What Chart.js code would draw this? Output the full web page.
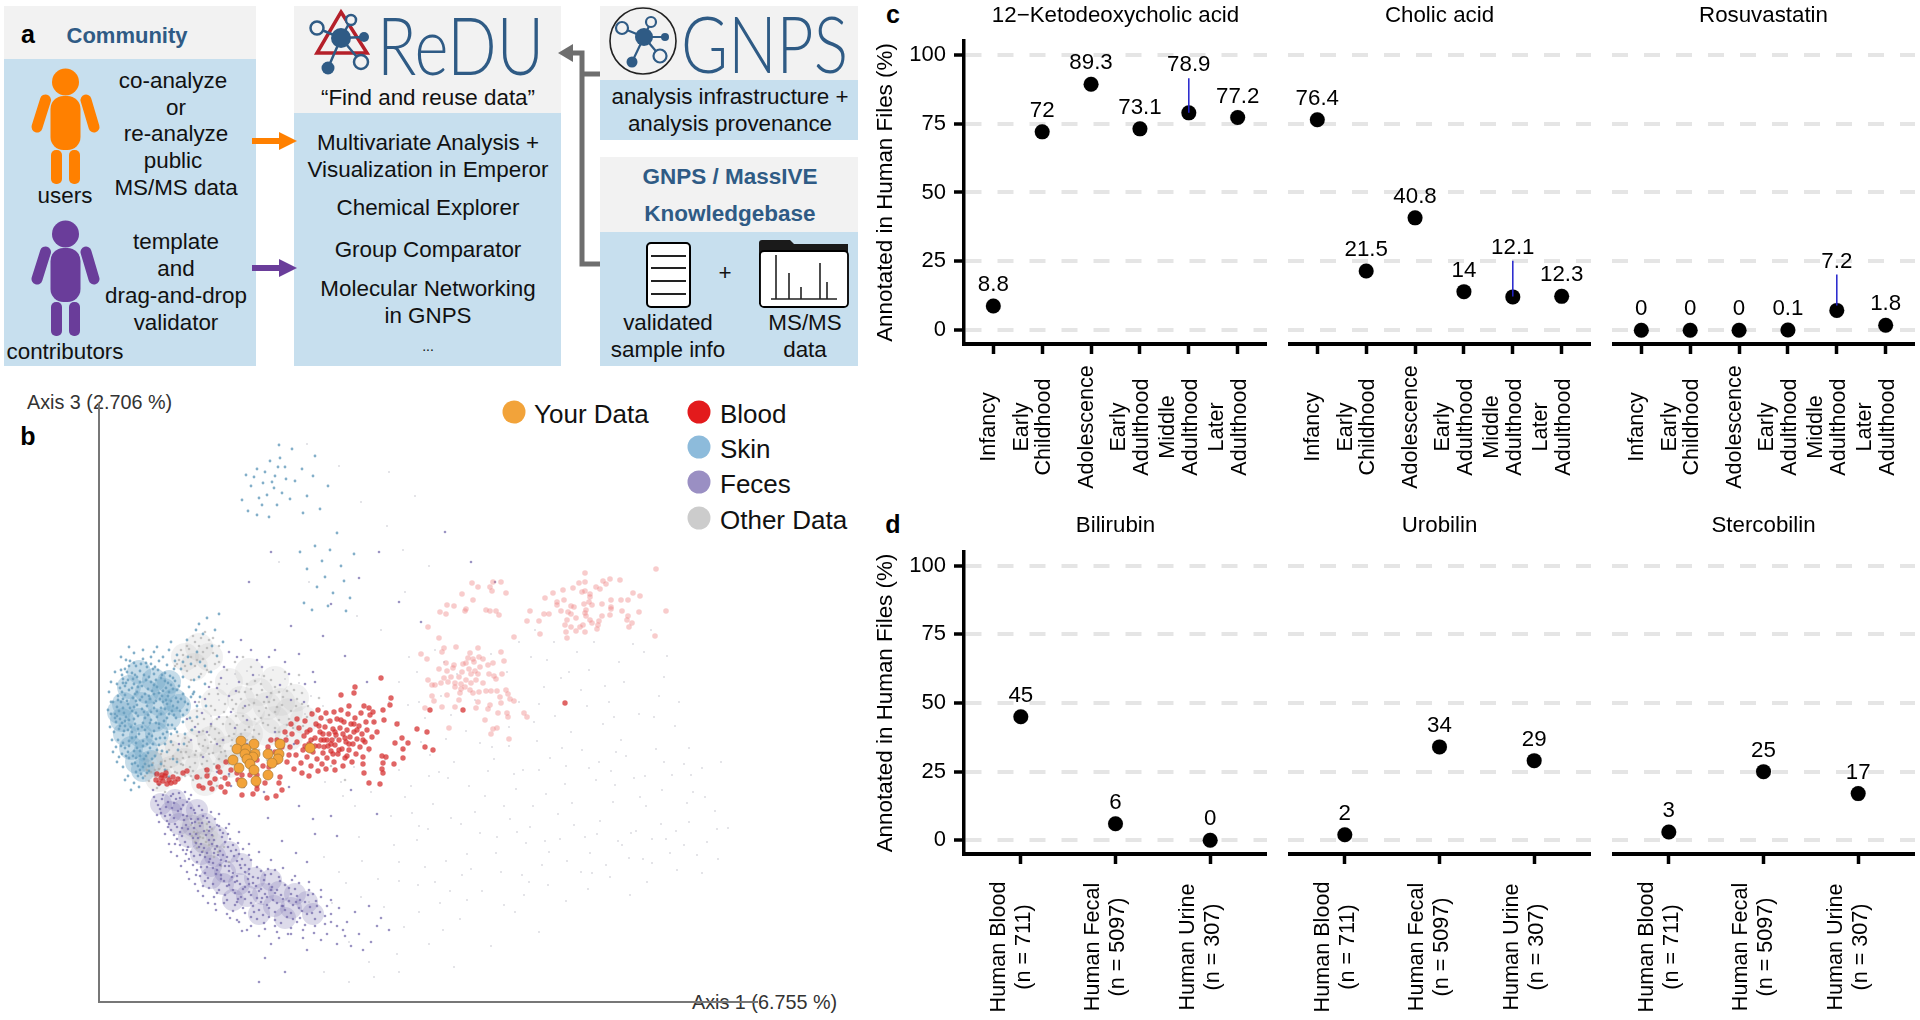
<!DOCTYPE html>
<html>
<head>
<meta charset="utf-8">
<title>ReDU figure</title>
<script src="https://cdn.jsdelivr.net/npm/chart.js@4"></script>
<style>
html, body { margin: 0; background: #fff; }
#page { position: relative; width: 1920px; height: 1020px; overflow: hidden; font-family: "Liberation Sans", Arial, sans-serif; }
#page canvas, #page svg { position: absolute; left: 0; top: 0; }
svg text { font-family: "Liberation Sans", Arial, sans-serif; font-size: 22.4px; text-anchor: middle; dominant-baseline: central; fill: #111; transform: translateY(-1px); }
svg text.head { font-weight: bold; font-size: 22.5px; fill: #2f5b85; }
svg text.tag { font-weight: bold; font-size: 25px; fill: #000; }
svg text.logo { font-family: Lato, "Open Sans", sans-serif; font-weight: 300; text-anchor: start; dominant-baseline: auto; fill: #2f5b85; transform: none; }
svg text.leg { font-size: 26px; text-anchor: start; }
svg text.ax { font-size: 19.8px; fill: #333; text-anchor: start; }
</style>
</head>
<body>
<div id="page">
<svg width="1920" height="1020" viewBox="0 0 1920 1020">
  <defs>
    <g id="person">
      <circle cx="65.5" cy="82" r="13.5"/>
      <rect x="50.5" y="96" width="30" height="54" rx="13"/>
      <rect x="51" y="150" width="11" height="34" rx="5"/>
      <rect x="69" y="150" width="11" height="34" rx="5"/>
      <path d="M45.5 100 L37 127 M86 100 L94 127" stroke-width="11" stroke-linecap="round" stroke="currentColor" fill="none"/>
    </g>
  </defs>

  <!-- panel a boxes -->
  <rect x="4" y="6" width="252" height="53" fill="#f2f2f2"/>
  <rect x="4" y="59" width="252" height="307" fill="#c7dfee"/>
  <rect x="294" y="6" width="267" height="107" fill="#f2f2f2"/>
  <rect x="294" y="113" width="267" height="253" fill="#c7dfee"/>
  <rect x="600" y="6" width="258" height="74" fill="#f2f2f2"/>
  <rect x="600" y="80" width="258" height="60" fill="#c7dfee"/>
  <rect x="600" y="157" width="258" height="75" fill="#f2f2f2"/>
  <rect x="600" y="232" width="258" height="134" fill="#c7dfee"/>

  <text class="tag" x="28" y="35">a</text>
  <text class="head" x="127" y="36" style="font-size:22px">Community</text>
  <use href="#person" fill="#ff8000" color="#ff8000"/>
  <use href="#person" fill="#6a3d9a" color="#6a3d9a" y="152"/>
  <text x="173" y="81">co-analyze</text>
  <text x="176" y="108">or</text>
  <text x="176" y="134">re-analyze</text>
  <text x="173" y="161">public</text>
  <text x="176" y="188">MS/MS data</text>
  <text x="65" y="196">users</text>
  <text x="176" y="242">template</text>
  <text x="176" y="269">and</text>
  <text x="176" y="296">drag-and-drop</text>
  <text x="176" y="323">validator</text>
  <text x="65" y="352">contributors</text>

  <path d="M252 141 H284" stroke="#ff8000" stroke-width="6"/>
  <path d="M279 132 L297 141 L279 150 Z" fill="#ff8000"/>
  <path d="M252 268 H284" stroke="#6a3d9a" stroke-width="6"/>
  <path d="M279 259 L297 268 L279 277 Z" fill="#6a3d9a"/>

  <!-- ReDU logo -->
  <path d="M341 12 L367 53 L317 53 Z" fill="none" stroke="#b5202a" stroke-width="3.5"/>
  <g stroke="#2f5b85" stroke-width="2.5" fill="none">
    <path d="M341 38 L317 28 M341 38 L364 37 M341 38 L328 68 M341 38 L361 62 M341 38 L351 20"/>
    <circle cx="317" cy="28" r="6.5" fill="#f2f2f2"/>
    <circle cx="361" cy="62" r="7" fill="#f2f2f2"/>
    <circle cx="351" cy="20" r="5" fill="#f2f2f2"/>
  </g>
  <circle cx="341" cy="38" r="10" fill="#2f5b85"/>
  <circle cx="364" cy="37" r="5" fill="#2f5b85"/>
  <circle cx="328" cy="68" r="6.5" fill="#2f5b85"/>
  <text class="logo" x="377" y="75" style="font-size:80px" textLength="167" lengthAdjust="spacingAndGlyphs">ReDU</text>
  <text x="428" y="98">“Find and reuse data”</text>
  <text x="428" y="143">Multivariate Analysis +</text>
  <text x="428" y="170">Visualization in Emperor</text>
  <text x="428" y="208">Chemical Explorer</text>
  <text x="428" y="250">Group Comparator</text>
  <text x="428" y="289">Molecular Networking</text>
  <text x="428" y="316">in GNPS</text>
  <text x="428" y="347" style="font-size:14px">...</text>

  <!-- GNPS logo -->
  <circle cx="643" cy="41" r="33" fill="none" stroke="#222" stroke-width="1.6"/>
  <g stroke="#2f5b85" stroke-width="2.2" fill="none">
    <path d="M644 37 L622 28 M644 37 L651 22 M644 37 L665 37 M644 37 L660 56 M644 37 L632 62"/>
    <circle cx="622" cy="28" r="6" fill="#f2f2f2"/>
    <circle cx="651" cy="22" r="5" fill="#f2f2f2"/>
    <circle cx="660" cy="56" r="6.5" fill="#f2f2f2"/>
  </g>
  <circle cx="644" cy="37" r="9" fill="#2f5b85"/>
  <circle cx="665" cy="37" r="4" fill="#2f5b85"/>
  <circle cx="632" cy="62" r="5.5" fill="#2f5b85"/>
  <text class="logo" x="681" y="73" style="font-size:78px" textLength="167" lengthAdjust="spacingAndGlyphs">GNPS</text>
  <text x="730" y="97">analysis infrastructure +</text>
  <text x="730" y="124">analysis provenance</text>
  <text class="head" x="730" y="177">GNPS / MassIVE</text>
  <text class="head" x="730" y="214">Knowledgebase</text>

  <path d="M600 74 H582 M582 50.5 V266.5 M582 264 H600 M584 53 H566" stroke="#6e6e6e" stroke-width="5" fill="none"/>
  <path d="M573 44 L558 53 L573 62 Z" fill="#6e6e6e"/>

  <!-- file icons -->
  <rect x="647" y="243" width="43" height="64" rx="4" fill="#fff" stroke="#000" stroke-width="2"/>
  <path d="M651 256 H686 M651 268 H686 M651 281 H686 M651 294 H686" stroke="#222" stroke-width="2"/>
  <text x="725" y="273">+</text>
  <path d="M759 304 V243 Q759 240 762 240 H790 L794 244 H848 V304 Z" fill="#1a1a1a"/>
  <rect x="760" y="251" width="88" height="56" rx="4" fill="#fff" stroke="#000" stroke-width="1.8"/>
  <path d="M771 299 H837 M776 299 V255 M789 299 V273 M801 299 V287 M820 299 V263 M827 299 V282" stroke="#222" stroke-width="1.6" fill="none"/>
  <text x="668" y="323">validated</text>
  <text x="668" y="350">sample info</text>
  <text x="805" y="323">MS/MS</text>
  <text x="805" y="350">data</text>

  <!-- panel b labels and legend -->
  <text class="ax" x="27" y="403">Axis 3 (2.706 %)</text>
  <text class="tag" x="28" y="437">b</text>
  <text class="ax" x="692" y="1003">Axis 1 (6.755 %)</text>
  <circle cx="514" cy="412" r="11.5" fill="#f2a33a"/>
  <text class="leg" x="534" y="415">Your Data</text>
  <circle cx="699" cy="412" r="11.5" fill="#e31a1c"/>
  <text class="leg" x="720" y="415">Blood</text>
  <circle cx="699" cy="447" r="11.5" fill="#8dbbdb"/>
  <text class="leg" x="720" y="450">Skin</text>
  <circle cx="699" cy="482" r="11.5" fill="#9a8fc3"/>
  <text class="leg" x="720" y="485">Feces</text>
  <circle cx="699" cy="518" r="11.5" fill="#cccccc"/>
  <text class="leg" x="720" y="521">Other Data</text>

  <text class="tag" x="893" y="15">c</text>
  <text class="tag" x="893" y="525">d</text>
</svg>

<canvas id="pcoa" width="690" height="625" style="left:90px;top:395px"></canvas>
<canvas id="c1" width="397" height="500" style="left:870px;top:0"></canvas>
<canvas id="c2" width="303" height="500" style="left:1288px;top:0"></canvas>
<canvas id="c3" width="303" height="500" style="left:1612px;top:0"></canvas>
<canvas id="d1" width="397" height="510" style="left:870px;top:510px"></canvas>
<canvas id="d2" width="303" height="510" style="left:1288px;top:510px"></canvas>
<canvas id="d3" width="303" height="510" style="left:1612px;top:510px"></canvas>
</div>

<script>
// values
const ageGroups = [["Infancy"], ["Early", "Childhood"], ["Adolescence"], ["Early", "Adulthood"], ["Middle", "Adulthood"], ["Later", "Adulthood"]];
const sampleTypes = [["Human Blood", "(n = 711)"], ["Human Fecal", "(n = 5097)"], ["Human Urine", "(n = 307)"]];
const percentTicks = [0, 25, 50, 75, 100];

const ketoValues = [8.8, 72, 89.3, 73.1, 78.9, 77.2];
const cholicValues = [76.4, 21.5, 40.8, 14, 12.1, 12.3];
const rosuvaValues = [0, 0, 0, 0.1, 7.2, 1.8];
const bilirubinValues = [45, 6, 0];
const urobilinValues = [2, 34, 29];
const stercobilinValues = [3, 25, 17];

// blue leader lines at Middle Adulthood
const ketoLeader = [78.9, 91.5];
const cholicLeader = [12.2, 25.2];
const rosuvaLeader = [9, 20.2];

// PCoA points [axis 1, axis 3], estimated by eye; the clouds are a thinned-out reading
const yourData = [[142,261],[155,258],[181,258],[138,253],[147,253],[156,248],[146,248],[169,248],[180,248],[154,245],[134,242],[148,243],[179,243],[173,239],[151,238],[140,234],[155,232],[169,227],[143,219],[157,221],[211,254]];

const bloodPts = [[282,324],[256,315],[255,309],[242,307],[292,304],[291,297],[270,294],[284,292],[285,282],[298,278],[318,273],[328,270],[303,264],[296,259],[309,259],[304,253],[326,255],[334,252],[287,245],[283,246],[304,244],[295,238],[284,239],[283,233],[284,229],[264,238],[265,229],[270,219],[281,218],[168,204],[177,206],[183,212],[143,207],[154,208],[158,213],[108,226],[104,214],[121,230],[111,219],[116,223],[122,215],[126,210],[129,218],[138,229],[143,227],[151,227],[158,227],[166,219],[180,219],[181,225],[158,217],[139,222],[126,224],[466,299],[331,292],[364,292],
[58,228],[62,224],[66,226],[70,222],[74,225],[60,219],[64,221],[68,218],[72,219],[76,220],[79,223],[63,227],[67,229],[57,222],[84,229],[88,231],[98,225],[108,232],[100,216],[113,213],[119,235],[169,255],[178,262],[158,242],[164,236],[127,240],[132,232],
[187,262],[191,255],[193,268],[197,247],[198,260],[200,274],[202,239],[204,252],[205,266],[206,281],[208,245],[210,258],[211,272],[212,236],[213,288],[214,250],[216,264],[217,278],[218,243],[219,292],[220,256],[221,270],[222,284],[223,238],[224,249],[225,262],[226,275],[227,289],[228,244],[229,256],[230,268],[231,281],[232,251],[233,262],[234,273],[235,240],[235,290],[236,257],[237,267],[238,283],[239,248],[240,262],[241,274],[242,292],[243,253],[244,268],[245,280],[246,244],[247,260],[248,272],[249,288],[250,252],[251,265],[252,278],[253,240],[254,258],[255,270],[256,284],[257,248],[258,263],[260,276],[261,255],[262,289],[263,268],[264,245],[266,260],[267,280],[268,272],[270,253],[271,287],[273,265],[188,240],[195,233],[203,229],[210,226],[219,231],[227,233],[236,232],[244,236],[192,278],[198,283],[190,247],[183,255],[176,250],[172,262],[186,270],[178,240],[170,235],[208,270],[216,256],[224,268],[232,258],[240,252],[228,262],[222,262],[236,270],[246,264],[250,258],[225,255],[212,262],[242,282],[258,272],[206,256],[220,276],[234,248],[248,246],[255,278],[264,262],[275,280],[278,270],[274,290],[265,296],[250,296]];

const paleBloodPts = [[557,433],[486,429],[511,423],[504,421],[521,422],[480,419],[486,420],[507,418],[497,415],[501,413],[474,414],[464,412],[486,411],[483,410],[454,409],[491,408],[446,404],[465,402],[458,400],[491,405],[534,409],[541,406],[529,402],[522,402],[512,402],[490,400],[503,398],[458,397],[493,397],[485,398],[472,396],[475,395],[512,395],[512,393],[487,392],[523,391],[540,390],[462,391],[431,391],[567,391],[469,390],[472,388],[486,389],[445,388],[450,388],[511,387],[503,386],[477,384],[487,386],[529,386],[468,382],[528,382],[491,382],[428,381],[440,381],[500,381],[493,379],[533,379],[466,377],[472,375],[484,377],[481,375],[499,377],[530,375],[477,371],[486,370],[467,370],[498,373],[441,368],[556,366],[468,364],[415,365],
[373,419],[394,420],[402,420],[379,415],[391,415],[393,411],[407,409],[363,408],[374,402],[348,397],[355,396],[367,393],[366,391],[341,390],[347,388],[387,392],[391,391],[397,391],[400,387],[329,375],[340,364],[357,355],[379,354],[345,354],[343,350],[371,349],[402,350],[322,348],[328,343],[369,344],[374,343],[380,345],[384,343],[405,341],[347,339],[364,338],[355,337],[367,339],[375,340],[381,335],[389,337],[394,339],[340,333],[348,331],[354,334],[370,333],[376,331],[363,330],[372,328],[379,328],[390,328],[395,326],[360,325],[352,325],[329,322],[367,322],[377,322],[345,324],[397,323],[403,328],[333,317],[336,317],[342,319],[349,320],[356,319],[362,318],[372,319],[384,319],[356,315],[362,313],[366,315],[371,312],[407,312],[380,310],[387,311],[392,311],[398,311],[409,308],[333,306],[348,307],[361,309],[374,309],[379,300],[401,305],[411,303],[335,301],[360,302],[391,297],[402,299],[415,301],[326,294],[343,295],[356,295],[377,294],[389,293],[399,289],[408,289],[425,289],[428,285],[386,282],[409,285],[350,274],[394,273],[398,274],[392,268],[410,263]];

// broad soft marks for the solid part of each cloud
const skinCore = [[40,330],[55,322],[30,315],[48,310],[65,312],[25,298],[42,298],[60,298],[75,302],[23,282],[40,282],[56,282],[70,284],[26,268],[42,266],[58,268],[32,254],[47,252],[38,240],[44,232],[70,320],[80,296],[20,290],[52,240]];
const otherCore = [[58,238],[72,232],[86,240],[100,236],[114,244],[80,255],[96,258],[112,262],[128,252],[70,248],[124,272],[140,276],[152,290],[168,296],[182,300],[160,310],[142,302],[176,282],[190,290],[196,304],[150,268],[168,270],[86,345],[100,355],[95,335],[110,345],[60,224],[105,168],[95,175],[110,158],[130,238],[146,256],[100,280],[116,300],[130,320],[150,330],[176,322],[205,282],[190,265],[106,220]];
const fecesCore = [[62,198],[72,190],[84,192],[80,178],[94,176],[106,178],[90,165],[104,160],[118,165],[102,148],[116,146],[130,150],[112,136],[126,130],[142,138],[124,118],[140,118],[156,124],[172,122],[148,106],[164,108],[180,110],[196,108],[175,96],[192,94],[208,100],[76,202],[98,192],[112,124],[134,102],[160,88],[186,84],[214,88]];

const skinPts = [[31,341],[44,343],[37,336],[52,338],[26,333],[41,331],[48,335],[59,332],[33,329],[23,327],[55,328],[66,329],[38,325],[47,322],[29,322],[62,324],[71,326],[24,319],[35,318],[52,320],[43,316],[69,319],[76,321],[58,315],[21,314],[30,312],[64,311],[38,310],[49,313],[74,313],[80,316],[26,307],[55,308],[19,306],[43,305],[34,304],[69,306],[84,308],[61,303],[77,304],[47,300],[22,300],[29,298],[55,299],[38,297],[86,300],[68,298],[18,295],[74,296],[43,293],[62,294],[33,291],[52,290],[25,289],[81,291],[16,288],[70,288],[39,286],[58,285],[46,284],[77,284],[21,283],[30,282],[65,281],[17,280],[36,278],[51,279],[73,277],[26,276],[43,275],[60,274],[20,273],[33,270],[55,271],[68,270],[40,268],[24,267],[48,265],[61,264],[19,262],[30,261],[37,259],[54,258],[66,258],[44,256],[26,254],[58,252],[35,251],[49,249],[23,248],[41,246],[30,244],[53,243],[36,239],[46,238],[41,232],[48,229],[39,226],
[35,339],[47,339],[28,330],[54,333],[45,327],[34,323],[57,322],[66,321],[26,316],[41,320],[72,317],[33,314],[53,311],[46,308],[60,309],[70,310],[24,303],[37,301],[51,303],[64,300],[79,300],[31,294],[48,296],[58,291],[73,291],[20,291],[27,285],[35,283],[52,282],[68,284],[44,279],[60,278],[23,279],[29,272],[39,273],[50,268],[64,268],[16,284],[33,264],[44,261],[57,263],[24,259],[51,254],[38,254],[63,251],[29,250],[45,243],[34,246],[50,236],[42,228],[39,236],
[30,336],[42,338],[56,335],[24,323],[36,327],[50,325],[63,327],[74,324],[27,319],[39,315],[55,317],[67,314],[78,312],[23,310],[36,308],[50,306],[63,306],[72,301],[82,303],[19,302],[28,301],[41,302],[57,301],[67,302],[89,298],[24,294],[35,295],[45,290],[55,294],[66,293],[78,294],[18,286],[26,281],[37,289],[49,287],[62,288],[75,287],[84,287],[21,276],[32,275],[46,272],[57,279],[69,277],[76,273],[25,271],[37,265],[53,266],[66,264],[72,268],[22,256],[30,256],[41,251],[48,258],[60,257],[27,246],[37,244],[47,246],[56,246],[33,238],[44,235],[53,237],[37,230],[44,224],[50,231],
[14,300],[12,288],[15,270],[17,255],[20,245],[24,235],[29,226],[35,219],[40,215],[18,318],[22,332],[27,342],[35,349],[44,352],[52,345],[60,341],[68,337],[75,333],[84,325],[90,315],[92,305],[88,292],[84,280],[78,270],[72,260],[68,250],[62,238],[56,228],[108,384],[120,388],[97,372],[104,368],[16,330],[10,310],[30,355],[82,333],[95,322],[101,340],[89,345],[78,347],[70,352],[113,356],[94,308],[98,296],[91,284],[86,268],[79,252],[74,243],[66,232],
[95,310],[100,325],[106,318],[112,330],[92,338],[98,350],[84,340],[76,341],[64,345],[55,350],[101,305],[107,296],[98,285],[93,272],[85,258],[78,240],[70,225],[60,217],[106,336],[118,346],[124,360],[116,372],[100,378],[88,362],[72,360],[58,355],[12,300],[11,275],[13,262],[9,292],[12,320],[22,345],[18,240],[14,250],[26,222],[32,212],
[158,533],[164,519],[171,541],[176,526],[181,544],[187,523],[175,514],[168,507],[160,504],[152,516],[147,527],[143,502],[149,491],[158,487],[183,509],[191,503],[196,521],[203,533],[208,506],[214,526],[178,497],[170,485],[204,489],[221,493],[229,516],[216,546],[193,553],[180,557],[166,530],[173,520],[179,535],[155,525],[163,497],[186,535],[238,469],[216,456],[223,441],[231,452],[242,436],[208,433],[226,425],[218,415],[234,409],[245,421],[251,404],[205,399],[213,392],[229,396],[255,448],[201,450],[247,391]];

const otherPts = [[165,300],[158,307],[172,309],[150,297],[178,295],[160,291],[170,287],[184,305],[142,303],[152,313],[162,318],[176,315],[188,311],[134,293],[144,286],[156,283],[180,282],[192,291],[198,303],[128,285],[138,277],[150,275],[164,279],[176,274],[188,277],[120,269],[130,266],[142,268],[154,265],[167,294],[175,302],[155,299],[146,310],[137,298],[195,312],[203,298],[208,285],[124,278],[116,292],
[48,232],[54,239],[60,233],[66,241],[72,235],[78,243],[84,237],[90,245],[96,239],[102,247],[108,241],[114,249],[120,243],[126,251],[132,256],[56,226],[62,248],[70,252],[76,230],[82,250],[88,256],[94,231],[100,258],[106,233],[112,260],[118,235],[124,262],[130,238],[68,225],[74,257],[80,224],[86,264],[92,226],[98,266],[104,271],[110,267],[116,273],[122,224],[50,221],[58,214],[66,210],[92,177],[98,169],[104,164],[110,157],[100,179],[108,172],[114,166],[96,160],[104,151],[118,155],
[78,338],[84,347],[90,353],[96,360],[102,364],[108,354],[114,349],[104,343],[96,336],[88,331],[92,322],[110,330],[120,340],
[46,226],[52,230],[59,228],[65,236],[71,243],[78,229],[84,244],[91,235],[97,251],[103,238],[109,254],[115,238],[121,256],[127,246],[133,262],[139,252],[72,261],[79,266],[87,250],[92,272],[99,278],[106,262],[112,276],[118,283],[125,290],[131,278],[137,286],[144,294],[148,262],[155,272],[162,284],[169,277],[176,290],[183,297],[190,283],[197,296],[203,309],[209,296],[180,270],[188,266],[194,274],[204,276],[160,268],[170,262],[146,272],[135,268],[122,250],[116,263],[110,248],[104,256],[96,247],[90,260],[82,238],[74,246],[68,232],[62,240],[56,232],[50,236],[86,226],[94,222],[102,224],[110,228],[118,216],[130,226],[136,236],[142,224],[150,234],[168,242],[176,236],[190,256],[160,252],[152,246],[170,300],[163,312],[156,321],[148,318],[140,310],[133,302],[126,298],[119,308],[112,296],[105,283],[98,291],[93,281],[180,310],[192,318],[172,322],[200,327],[186,330],[165,326],[152,335],[136,340],[128,332],[144,345],[120,318],[110,308],[100,300],[212,290],[220,304],[228,282],[236,264],[214,262],[232,236],[246,222],
[80,342],[86,336],[92,345],[98,342],[104,350],[110,362],[100,356],[94,366],[88,356],[82,352],[76,336],[106,370],[114,364],[120,356],[116,338],[108,332],[112,320],[102,328],
[95,170],[101,165],[107,160],[113,173],[119,150],[98,154],[93,166],[108,178],[115,145],[125,155],[130,140],[122,136]];

const farField = [[120,302],[112,286],[128,318],[136,328],[148,331],[160,327],[174,332],[186,323],[200,319],[212,306],[206,288],[216,276],[224,296],[230,268],[236,248],[226,220],[244,206],[256,196],[272,210],[286,242],[300,232],[312,216],[326,284],[342,306],[358,328],[376,302],[392,348],[408,330],[420,360],[436,372],[448,342],[462,324],[478,350],[490,332],[506,316],[520,340],[534,358],[552,372],[568,346],[440,298],[456,286],[472,270],[488,296],[504,278],[522,262],[540,288],[560,306],[576,276],[590,254],[300,140],[318,162],[336,120],[352,184],[368,148],[386,206],[402,130],[418,170],[434,196],[450,150],[466,218],[482,130],[498,168],[514,200],[530,144],[546,226],[562,178],[578,132],[594,210],[608,160],[622,240],[430,120],[500,240],[548,120],[590,180],[320,90],[344,72],[368,102],[392,56],[416,90],[440,70],[250,60],[270,40],[298,48],[180,440],[210,420],[258,386],[282,372],[306,410],[330,436],[304,452],[288,476],[262,500],[240,536],[208,558],[290,530],[316,506],
[331,247],[347,263],[309,297],[318,330],[336,352],[352,287],[367,271],[381,259],[395,243],[410,256],[424,232],[438,261],[451,244],[467,236],[483,252],[497,222],[512,231],[527,246],[541,205],[557,253],[573,227],[588,199],[603,234],[616,191],[629,174],[619,143],[603,129],[585,157],[571,149],[553,163],[537,171],[523,157],[507,137],[491,149],[475,177],[461,163],[443,137],[427,159],[411,183],[397,149],[381,169],[363,127],[347,141],[329,173],[313,189],[295,157],[279,123],[263,141],[247,119],[233,99],[319,117],[341,99],[361,83],[383,111],[405,97],[425,107],[449,117],[467,101],[489,113],[511,125],[531,107],[553,139],
[292,186],[306,205],[320,176],[334,198],[349,224],[362,178],[376,190],[389,231],[405,196],[417,213],[431,175],[447,208],[459,188],[473,199],[486,165],[501,181],[516,217],[532,169],[547,196],[563,212],[577,171],[592,227],[606,205],[618,173],[300,121],[326,135],[351,111],[372,133],[398,165],[423,127],[446,161],[468,141],[493,129],[519,161],[544,143],[567,163],[598,147],[304,252],[330,226],[355,240],[370,216],[393,255],[415,228],[440,232],[463,254],[490,234],[517,250],[535,224],[565,240],[585,238],
[420,300],[445,315],[470,330],[432,345],[455,360],[482,312],[510,300],[495,360],[525,320],[545,350],[565,325],[580,300],[410,275],[435,280],[515,285],[555,285],[300,320],[320,300],[345,340],[310,345],[300,280],[322,260],[340,230],[270,250],[255,235],[275,280],[290,300],[248,270],[242,220],[260,165],[240,130],[225,145],[210,100],[262,105],[285,95],[305,75],[330,58],[355,35],[300,30],[275,25],[225,30],[250,20]];

const fecesPts = [[55,205],[63,203],[72,206],[81,204],[90,203],[59,197],[67,195],[75,199],[84,197],[92,194],[100,196],[62,189],[71,187],[79,191],[88,186],[96,189],[104,186],[112,190],[68,181],[76,178],[85,182],[93,179],[101,176],[110,180],[118,177],[72,172],[81,170],[89,173],[97,168],[105,171],[113,167],[121,172],[129,168],[78,163],[86,160],[94,164],[102,158],[110,162],[118,156],[126,160],[134,157],[84,152],[92,150],[100,155],[108,149],[116,153],[124,147],[132,151],[140,148],[90,143],[98,140],[106,145],[114,139],[122,142],[130,136],[138,141],[146,137],[152,142],[98,132],[106,129],[114,134],[122,127],[130,131],[138,126],[146,130],[154,125],[162,131],[172,128],[106,121],[114,118],[122,123],[130,117],[138,121],[146,115],[154,119],[162,113],[170,118],[178,112],[186,117],[196,113],[118,109],[126,107],[134,112],[142,105],[150,110],[158,104],[166,108],[174,102],[182,107],[190,101],[198,106],[206,100],[214,108],[136,97],[144,94],[152,99],[160,92],[168,97],[176,90],[184,96],[192,89],[200,94],[208,88],[218,96],[152,85],[164,87],[176,82],[188,85],[198,80],[74,208],[86,210],
[57,201],[69,200],[77,203],[88,200],[61,193],[73,194],[82,193],[95,192],[103,192],[66,186],[75,184],[84,187],[92,183],[99,183],[108,184],[116,183],[69,175],[78,175],[87,177],[95,174],[103,179],[111,175],[120,176],[127,174],[75,167],[83,166],[91,168],[99,164],[107,167],[115,162],[123,165],[131,163],[139,159],[81,157],[89,155],[97,159],[105,154],[113,158],[121,151],[129,155],[137,152],[144,153],[87,148],[95,146],[103,150],[111,143],[119,147],[127,141],[135,146],[143,143],[150,147],[94,137],[102,135],[110,140],[118,132],[126,136],[134,129],[142,134],[150,128],[158,135],[166,127],[176,132],[101,126],[109,124],[117,128],[125,121],[133,125],[141,118],[149,123],[157,116],[165,122],[173,115],[181,121],[190,114],[200,119],[110,114],[120,112],[128,116],[136,109],[144,113],[152,107],[160,111],[168,105],[176,109],[184,103],[192,108],[201,102],[209,107],[217,101],[128,102],[138,100],[146,103],[154,96],[162,100],[170,94],[178,99],[186,92],[194,97],[203,91],[211,95],[221,90],[134,91],[146,89],[158,83],[170,85],[182,79],[194,83],[206,77],[216,83],[226,78],[140,80],[152,76],[166,73],[178,70],[192,74],[204,64],[215,69],
[64,207],[80,209],[92,207],[58,187],[70,178],[83,174],[96,180],[110,171],[124,169],[76,158],[88,152],[101,147],[115,149],[128,145],[141,137],[86,141],[97,127],[108,135],[121,137],[136,120],[150,133],[159,124],[169,133],[180,125],[193,122],[104,116],[115,105],[125,99],[139,103],[150,118],[163,104],[172,112],[183,96],[197,100],[210,112],[222,105],[131,84],[143,71],[155,90],[165,79],[176,76],[189,68],[201,84],[213,89],[232,88],[238,76],[246,66],[228,96],[117,92],[109,99],[99,111],[90,123],[82,136],[72,150],
[54,212],[60,180],[66,168],[70,158],[78,146],[88,130],[96,118],[104,106],[116,98],[128,88],[138,82],[148,72],[160,66],[120,188],[130,178],[140,170],[150,158],[160,150],[172,142],[184,134],[196,126],[210,120],[222,112],[232,102],[226,86],[216,76],[204,72],[192,68],[180,64],[172,58],[166,44],[186,30],[160,20],[208,52],[228,68],[240,94],[248,80],[260,68],[272,60],[282,84],[252,56],[238,58],[270,96],[290,72],[244,72],[256,90],[232,80],[222,62],[264,52],[278,76],
[200,196],[216,168],[232,186],[252,212],[278,188],[200,348],[224,366],[246,346],[268,320],[232,398],[260,424],[280,450],[300,400],[322,380],[346,470],[372,440],[396,420],[150,420],[172,450],[130,350],[142,362],[158,342],[176,352],[192,376],[214,330],[118,314],[130,306],[140,320],[190,328],[206,318],[112,278],[124,262],[136,274],[148,258],[118,230],[132,216],[150,250],[176,270],[106,303],[122,324],[146,296],[163,335],[181,317],[96,275],[103,289],[137,311],[154,327],[88,283],[214,183],[238,166],[169,184],[183,161],[197,149],[208,140],
[96,300],[110,315],[125,335],[138,345],[152,352],[170,345],[186,340],[100,270],[118,258],[134,246],[155,240],[172,252],[195,258],[205,300],[216,320],[192,302],[168,305],[148,282],[132,290],[120,285],[108,270],[92,262],[80,258],[104,245],[130,228],[145,215],[165,210],[190,215]];

const cloudMarks = [
    { pts: yourData, color: "#f2a33a", radius: 5, border: "#a9792f", borderWidth: 0.7 },
    { pts: bloodPts, color: "rgba(212,42,42,0.72)", radius: 2.7 },
    { pts: paleBloodPts, color: "rgba(238,128,128,0.4)", radius: 2.8 },
    { pts: fecesPts, color: "rgba(112,102,170,0.7)", radius: 1.3 },
    { pts: skinPts, color: "rgba(100,155,188,0.8)", radius: 1.4 },
    { pts: otherPts, color: "rgba(165,165,165,0.6)", radius: 1.3 },
    { pts: farField, color: "rgba(165,165,178,0.4)", radius: 1 },
    { pts: otherCore, color: "rgba(190,190,190,0.22)", radius: 14 },
    { pts: skinCore, color: "rgba(120,172,203,0.42)", radius: 12 },
    { pts: fecesCore, color: "rgba(140,132,185,0.3)", radius: 11 }
];

Chart.defaults.font.family = "'Liberation Sans', Arial, sans-serif";
Chart.defaults.color = "#000";
Chart.defaults.animation = false;
Chart.defaults.responsive = false;

// PCoA panel
new Chart(document.getElementById("pcoa"), {
    type: "scatter",
    data: {
        datasets: cloudMarks.map(m => ({
            data: m.pts.map(p => ({ x: p[0], y: p[1] })),
            backgroundColor: m.color,
            borderColor: m.border || m.color,
            borderWidth: m.borderWidth || 0,
            pointRadius: m.radius
        }))
    },
    options: {
        layout: { autoPadding: false, padding: { left: 9, top: 9, right: 23, bottom: 18 } },
        plugins: { legend: { display: false }, tooltip: { enabled: false } },
        scales: {
            x: {
                min: 0, max: 658,
                ticks: { display: false },
                grid: { drawOnChartArea: false, drawTicks: false },
                border: { color: "#777", width: 2 },
                afterFit: s => { s.height = 0; }
            },
            y: {
                min: 0, max: 598,
                ticks: { display: false },
                grid: { drawOnChartArea: false, drawTicks: false },
                border: { color: "#777", width: 2 },
                afterFit: s => { s.width = 0; }
            }
        }
    }
});

// centred rotated category labels, placed from the x scale
function rotatedLabels(categories, centerY, lineOffsets) {
    return {
        id: "rotatedLabels",
        afterDraw(chart) {
            const ctx = chart.ctx;
            ctx.save();
            ctx.fillStyle = "#000";
            ctx.font = "21.6px 'Liberation Sans', Arial, sans-serif";
            ctx.textAlign = "center";
            ctx.textBaseline = "middle";
            categories.forEach((lines, i) => {
                const px = chart.scales.x.getPixelForValue(i);
                const offs = lines.length === 1 ? [-4] : lineOffsets;
                lines.forEach((line, k) => {
                    ctx.save();
                    ctx.translate(px + offs[k], centerY);
                    ctx.rotate(-Math.PI / 2);
                    ctx.fillText(line, 0, 0);
                    ctx.restore();
                });
            });
            ctx.restore();
        }
    };
}

// value above each dot; a dot with a leader line has its value above the line
function valueLabels(leader) {
    return {
        id: "valueLabels",
        afterDatasetsDraw(chart) {
            const ctx = chart.ctx;
            const ds = chart.data.datasets[chart.data.datasets.length - 1];
            const yScale = chart.scales.y;
            ctx.save();
            ctx.fillStyle = "#000";
            ctx.font = "22.3px 'Liberation Sans', Arial, sans-serif";
            ctx.textAlign = "center";
            ctx.textBaseline = "middle";
            ds.data.forEach(p => {
                const y = leader && p.x === 4 ? yScale.getPixelForValue(leader[1]) - 13 : yScale.getPixelForValue(p.y) - 21;
                ctx.fillText(String(p.y), chart.scales.x.getPixelForValue(p.x), y);
            });
            ctx.restore();
        }
    };
}

function panel(id, title, categories, values, cfg) {
    const datasets = [];
    if (cfg.leader) {
        datasets.push({
            type: "line",
            data: cfg.leader.map(v => ({ x: 4, y: v })),
            borderColor: "#2222cc",
            borderWidth: 1.5,
            pointRadius: 0
        });
    }
    datasets.push({
        data: values.map((v, i) => ({ x: i, y: v })),
        backgroundColor: "#000",
        pointRadius: 7.5
    });

    new Chart(document.getElementById(id), {
        type: "scatter",
        data: { datasets },
        plugins: [valueLabels(cfg.leader), rotatedLabels(categories, cfg.labelY, cfg.lineOffsets)],
        options: {
            clip: false,
            layout: { autoPadding: false },
            plugins: {
                legend: { display: false },
                tooltip: { enabled: false },
                title: {
                    display: true,
                    text: title,
                    fullSize: false,
                    color: "#000",
                    font: { size: 22.3, weight: "normal" },
                    padding: { top: 2, bottom: cfg.titleBottom }
                }
            },
            scales: {
                x: {
                    type: "linear",
                    min: -0.6,
                    max: categories.length - 0.4,
                    afterBuildTicks: s => { s.ticks = categories.map((c, i) => ({ value: i })); },
                    ticks: { display: false },
                    grid: { drawOnChartArea: false, tickColor: "#000", tickWidth: 3.5, tickLength: 10 },
                    border: { color: "#000", width: 4 },
                    afterFit: s => { s.height = cfg.xHeight; }
                },
                y: {
                    min: -5,
                    max: 105,
                    afterBuildTicks: s => { s.ticks = percentTicks.map(v => ({ value: v })); },
                    ticks: { display: cfg.yAxis, padding: 8, font: { size: 22 }, color: "#000" },
                    grid: {
                        color: "#e5e5e5",
                        lineWidth: 4,
                        drawTicks: cfg.yAxis,
                        tickColor: "#000",
                        tickWidth: 3.5,
                        tickLength: 10
                    },
                    border: { display: cfg.yAxis, color: "#000", width: 3.5, dash: [16, 16] },
                    title: {
                        display: cfg.yAxis,
                        text: "Annotated in Human Files (%)",
                        color: "#000",
                        font: { size: 22.4 },
                        padding: { top: 2, bottom: 0 }
                    },
                    afterFit: s => { s.width = cfg.yAxis ? 94 : 0; }
                }
            }
        }
    });
}

const rowC = { labelY: 427, lineOffsets: [-20.5, 2], titleBottom: 12.2, xHeight: 156 };
const rowD = { labelY: 437, lineOffsets: [-22, 3], titleBottom: 13.2, xHeight: 166 };

panel("c1", "12\u2212Ketodeoxycholic acid", ageGroups, ketoValues, { ...rowC, yAxis: true, leader: ketoLeader });
panel("c2", "Cholic acid", ageGroups, cholicValues, { ...rowC, yAxis: false, leader: cholicLeader });
panel("c3", "Rosuvastatin", ageGroups, rosuvaValues, { ...rowC, yAxis: false, leader: rosuvaLeader });
panel("d1", "Bilirubin", sampleTypes, bilirubinValues, { ...rowD, yAxis: true });
panel("d2", "Urobilin", sampleTypes, urobilinValues, { ...rowD, yAxis: false });
panel("d3", "Stercobilin", sampleTypes, stercobilinValues, { ...rowD, yAxis: false });
</script>
</body>
</html>
